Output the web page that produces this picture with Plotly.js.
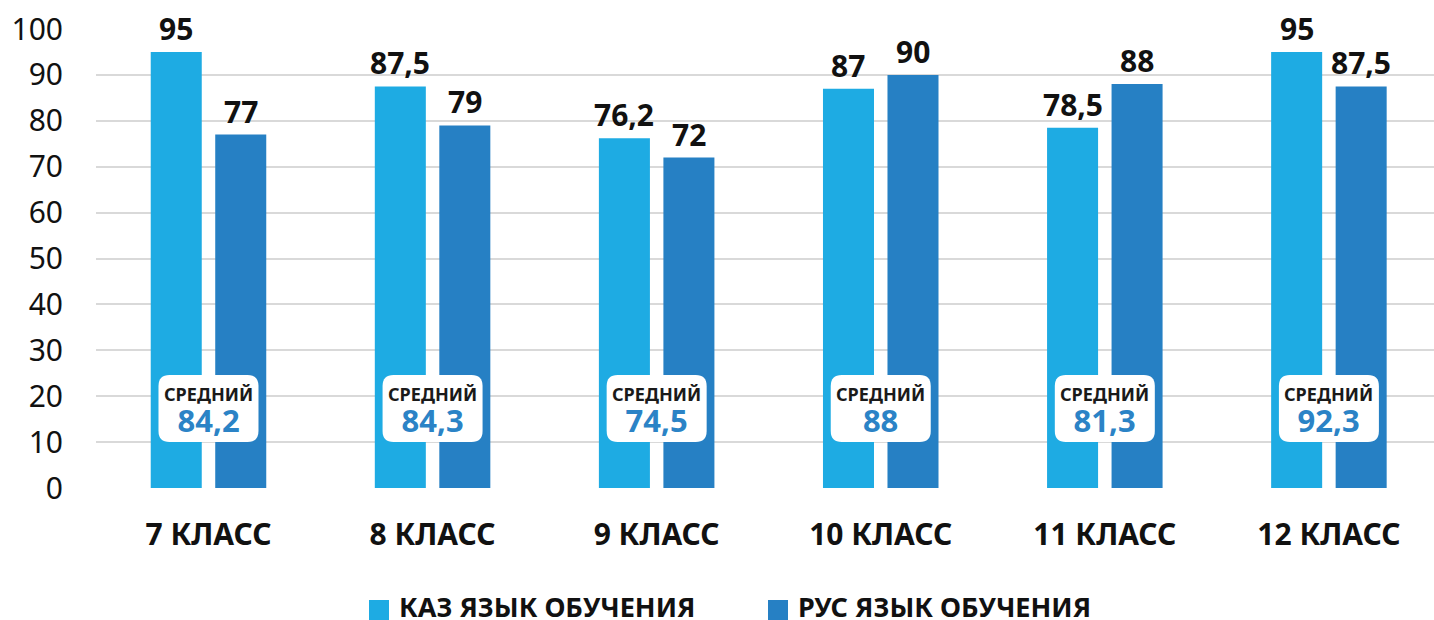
<!DOCTYPE html>
<html>
<head>
<meta charset="utf-8">
<script src="https://cdn.plot.ly/plotly-3.0.1.min.js"></script>
<style>html,body{margin:0;padding:0;background:#fff;}#chart{width:1434px;height:620px;}</style>
</head>
<body>
<div id="chart"></div>
<script>
const categories = ['7 КЛАСС', '8 КЛАСС', '9 КЛАСС', '10 КЛАСС', '11 КЛАСС', '12 КЛАСС'];
const seriesNames = ['КАЗ ЯЗЫК ОБУЧЕНИЯ', 'РУС ЯЗЫК ОБУЧЕНИЯ'];
const kazValues = [95, 87.5, 76.2, 87, 78.5, 95];
const rusValues = [77, 79, 72, 90, 88, 87.5];
const avgValues = [84.2, 84.3, 74.5, 88, 81.3, 92.3];
const avgLabel = 'СРЕДНИЙ';
const yTicks = [0, 10, 20, 30, 40, 50, 60, 70, 80, 90, 100];

const LIGHT = '#1EABE3';
const DARK = '#2680C4';
const AVG_COLOR = '#2B83C6';
const FONT = '"Noto Sans", "DejaVu Sans", sans-serif';
const fmt = v => String(v).replace('.', ',');

const traces = [
  {type: 'bar', x: categories, y: kazValues, name: seriesNames[0], marker: {color: LIGHT}, hoverinfo: 'none'},
  {type: 'bar', x: categories, y: rusValues, name: seriesNames[1], marker: {color: DARK}, hoverinfo: 'none'}
];

const annotations = [];
const shapes = [];
const BAR_OFF = 32.3;

categories.forEach((c, i) => {
  annotations.push({x: c, y: kazValues[i], xref: 'x', yref: 'y', text: fmt(kazValues[i]),
    showarrow: false, xshift: -BAR_OFF, yanchor: 'bottom', yshift: 1,
    font: {family: FONT, size: 30, color: '#111', weight: 'bold'}});
  annotations.push({x: c, y: rusValues[i], xref: 'x', yref: 'y', text: fmt(rusValues[i]),
    showarrow: false, xshift: BAR_OFF, yanchor: 'bottom', yshift: 1,
    font: {family: FONT, size: 30, color: '#111', weight: 'bold'}});
  // average box
  const w = 50, h = 33.5, r = 11;
  shapes.push({type: 'path', xref: 'x', yref: 'y', xsizemode: 'pixel', ysizemode: 'pixel',
    xanchor: c, yanchor: 17.3,
    path: `M${-w + r},${-h} L${w - r},${-h} Q${w},${-h} ${w},${-h + r} L${w},${h - r} Q${w},${h} ${w - r},${h} L${-w + r},${h} Q${-w},${h} ${-w},${h - r} L${-w},${-h + r} Q${-w},${-h} ${-w + r},${-h} Z`,
    fillcolor: '#fff', line: {width: 0}, layer: 'above'});
  annotations.push({x: c, y: 17.3, xref: 'x', yref: 'y', showarrow: false,
    text: `<span style="font-size:18px;color:#1a1a1a">${avgLabel}</span><br><span style="font-size:31px;color:${AVG_COLOR}">${fmt(avgValues[i])}</span>`,
    yanchor: 'middle', yshift: -3, borderpad: 0,
    font: {family: FONT, size: 24, color: AVG_COLOR, weight: 'bold'}});
});

// thick base line under zero
shapes.push({type: 'rect', xref: 'paper', yref: 'y', ysizemode: 'pixel', yanchor: 0,
  x0: 0, x1: 1, y0: 0, y1: -7, fillcolor: '#D9D9D9', line: {width: 0}, layer: 'below'});

// manual legend
const legendColors = [LIGHT, DARK];
const legendX = [369, 768];
const plotL = 96, plotW = 1338, plotB = 488, plotH = 459;
const px = v => (v - plotL) / plotW;
const py = v => (plotB - v) / plotH;
seriesNames.forEach((n, k) => {
  shapes.push({type: 'rect', xref: 'paper', yref: 'paper', x0: px(legendX[k]), x1: px(legendX[k] + 20),
    y0: py(600), y1: py(621), fillcolor: legendColors[k], line: {width: 0}});
  annotations.push({xref: 'paper', yref: 'paper', x: px(legendX[k] + 28), y: py(600), xanchor: 'left',
    yanchor: 'top', yshift: 14, text: n, showarrow: false,
    font: {family: FONT, size: 27, color: '#111', weight: 'bold'}});
});

const layout = {
  width: 1434, height: 620,
  margin: {l: 96, r: 0, t: 29, b: 132},
  paper_bgcolor: '#fff', plot_bgcolor: '#fff',
  barmode: 'group', bargap: 0.4243, bargroupgap: 0.209,
  showlegend: false,
  xaxis: {type: 'category', range: [-0.502, 5.469], showgrid: false, zeroline: false, showline: false,
    ticks: '', ticklabelstandoff: 26,
    tickfont: {family: FONT, size: 30, color: '#111', weight: 'bold'}},
  yaxis: {range: [0, 100], tickvals: yTicks, showgrid: true, gridcolor: '#D9D9D9', gridwidth: 2,
    zeroline: false, showline: false, ticks: '', ticklabelstandoff: 32,
    tickfont: {family: FONT, size: 30, color: '#111'}},
  annotations: annotations,
  shapes: shapes
};

Plotly.newPlot('chart', traces, layout, {staticPlot: true, displayModeBar: false});
</script>
</body>
</html>
